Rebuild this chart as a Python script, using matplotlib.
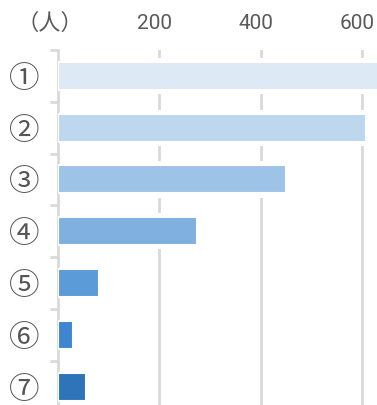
import matplotlib
matplotlib.use("Agg")
import matplotlib.pyplot as plt
import matplotlib.transforms as mtransforms
import numpy as np

plt.rcParams['font.family'] = ['Noto Sans CJK JP', 'DejaVu Sans']

# data
labels = ["①", "②", "③", "④", "⑤", "⑥", "⑦"]
counts = [640, 608, 450, 274, 81, 29, 56]
colors = ["#dde9f5", "#bdd7ee", "#9dc3e6", "#7fb0e0", "#5b9bd7", "#3e86cf", "#2e74b8"]
xticks = [200, 400, 600]

fig = plt.figure(figsize=(3.77, 4.05), dpi=100)
# axes runs past the bottom edge, like the reference
ax = fig.add_axes([58 / 377, (405 - 412.5) / 405, (377 - 58) / 377, 362.5 / 405])

pos = np.arange(len(labels))
# white halo behind the bars to cut the gridlines
ax.barh(pos, counts, height=0.7, color="white", zorder=2)
ax.barh(pos, counts, height=0.54, color=colors, edgecolor="white",
        linewidth=1.5, zorder=3)

ax.set_xlim(0, 630)
ax.set_ylim(6.5, -0.5)

ax.xaxis.tick_top()
ax.set_xticks(xticks)
ax.set_xticklabels([str(v) for v in xticks], fontsize=15, color="#595959",
                   family="Roboto")
ax.tick_params(axis="x", length=0, pad=12.5)
# labels sit a little left of their gridlines
shift = mtransforms.ScaledTranslation(-4.5 / 100, 0, fig.dpi_scale_trans)
for lab in ax.get_xticklabels():
    lab.set_transform(lab.get_transform() + shift)
ax.grid(axis="x", color="#d9d9d9", linewidth=2, zorder=1)
ax.set_axisbelow(True)

ax.set_yticks(pos)
ax.set_yticklabels(labels, fontsize=22, color="#555555")
ax.set_yticks(np.arange(-0.5, 7, 1), minor=True)
ax.tick_params(axis="y", which="major", length=0, pad=13.5)
ax.tick_params(axis="y", which="minor", length=6, width=2, color="#d9d9d9")

for s in ["top", "right", "bottom"]:
    ax.spines[s].set_visible(False)
ax.spines["left"].set_color("#d9d9d9")
ax.spines["left"].set_linewidth(2)

fig.text(50 / 377, 1 - 23 / 405, "（人）", fontsize=16, color="#595959",
         family=["Noto Sans CJK TC", "DejaVu Sans"], ha="center", va="center")

fig.savefig("out.png", dpi=100)
